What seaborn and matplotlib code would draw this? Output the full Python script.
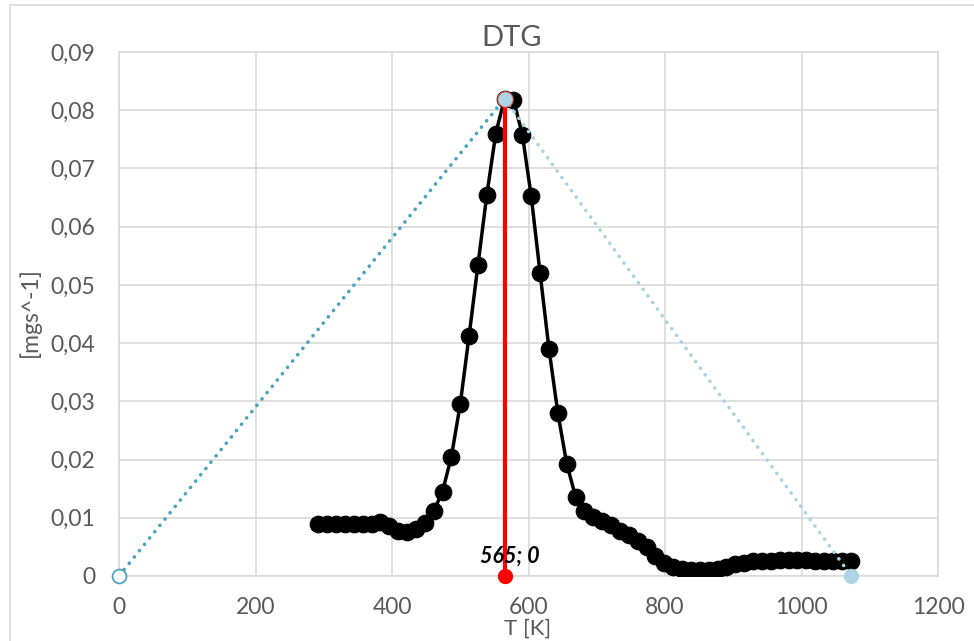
import matplotlib
matplotlib.use("Agg")
import matplotlib.pyplot as plt
import matplotlib.lines as mlines
from matplotlib.ticker import FuncFormatter, MultipleLocator
import seaborn as sns
import pandas as pd

# DTG curve
temp_k = [292, 305, 318, 331, 344, 357, 370, 383, 396, 409,
          422, 435, 448, 461, 474, 487, 500, 513, 526, 539,
          552, 565, 578, 591, 604, 617, 630, 643, 656, 669,
          682, 695, 708, 721, 734, 747, 760, 773, 786, 799,
          812, 825, 838, 851, 864, 877, 890, 903, 916, 929,
          942, 955, 968, 981, 994, 1007, 1020, 1033, 1046, 1059,
          1072]
dtg = [0.0089, 0.0089, 0.0089, 0.0089, 0.0089, 0.0089, 0.0090, 0.0093, 0.0086, 0.0078,
       0.0076, 0.0080, 0.0091, 0.0111, 0.0145, 0.0205, 0.0295, 0.0413, 0.0535, 0.0655,
       0.0760, 0.0820, 0.0818, 0.0758, 0.0652, 0.0520, 0.0390, 0.0280, 0.0193, 0.0136,
       0.0112, 0.0102, 0.0095, 0.0087, 0.0078, 0.0070, 0.0060, 0.0050, 0.0035, 0.0022,
       0.0015, 0.0012, 0.0011, 0.0010, 0.0010, 0.0012, 0.0016, 0.0020, 0.0023, 0.0025,
       0.0026, 0.0026, 0.0027, 0.0027, 0.0027, 0.0027, 0.0026, 0.0026, 0.0025, 0.0025,
       0.0025]

# helper lines: start, peak, end
tri_x = [0, 565, 1073]
tri_y = [0, 0.082, 0]
peak_x = [565, 565]
peak_y = [0, 0.082]
peak_label = "565; 0"

sns.set_style("white")
plt.rcParams['font.family'] = ['Lato', 'DejaVu Sans']

grey = "#595959"
grid_c = "#D9D9D9"

fig = plt.figure(figsize=(9.74, 6.41), dpi=100)
ax = fig.add_axes([119/974, 1-576/641, (938-119)/974, (576-52)/641])

df = pd.DataFrame({"T": temp_k, "DTG": dtg})
sns.lineplot(data=df, x="T", y="DTG", ax=ax, color="black", lw=2.5,
             marker="o", markersize=12, markeredgecolor="black", zorder=3)

# red peak line
ax.plot(peak_x, peak_y, color="red", lw=3, zorder=4)
ax.plot(peak_x[0], peak_y[0], "o", color="red", markersize=10, zorder=4, clip_on=False)
ax.annotate(peak_label, (peak_x[0], peak_y[0]), xytext=(4, 14), textcoords="offset points",
            ha="center", va="center", fontsize=15.5, fontweight="bold", fontstyle="italic",
            color="black", zorder=6)

# dotted triangle
dots = (0, (0.05, 2.2))
ax.plot(tri_x[:2], tri_y[:2], color="#4BA3BF", lw=2.6, linestyle=dots,
        dash_capstyle="round", zorder=5)
ax.plot(tri_x[1:], tri_y[1:], color="#A9D3E3", lw=2.6, linestyle=dots,
        dash_capstyle="round", zorder=5)
ax.plot(tri_x[0], tri_y[0], "o", markersize=10, markerfacecolor="white",
        markeredgecolor="#4BA3BF", markeredgewidth=1.3, linestyle="none", zorder=5, clip_on=False)
ax.plot(tri_x[1], tri_y[1], "o", markersize=11, markerfacecolor="#ADD5E3",
        markeredgecolor="#E06060", markeredgewidth=0.8, zorder=5)
ax.plot(tri_x[2], tri_y[2], "o", markersize=10, markerfacecolor="#ADD5E3",
        markeredgecolor="#ADD5E3", zorder=5, clip_on=False)

ax.set_xlim(0, 1200)
ax.set_ylim(0, 0.09)
ax.xaxis.set_major_locator(MultipleLocator(200))
ax.yaxis.set_major_locator(MultipleLocator(0.01))
ax.yaxis.set_major_formatter(FuncFormatter(
    lambda v, p: "0" if abs(v) < 1e-9 else ("%.2f" % v).replace(".", ",")))
ax.grid(True, color=grid_c, lw=1.2)
ax.set_axisbelow(True)
for s in ax.spines.values():
    s.set_color(grid_c)
    s.set_linewidth(1.2)
ax.tick_params(length=0, labelsize=16.5, labelcolor=grey)
ax.tick_params(axis="x", pad=15)
ax.tick_params(axis="y", pad=17)
ax.set_xlabel("")
ax.set_ylabel("")

fig.text(512/974, 1-38/641, "DTG", ha="center", va="center", fontsize=21, color=grey)
fig.text(30/974, 1-312/641, "[mgs^-1]", ha="center", va="center", rotation=90,
         fontsize=16.5, color=grey)
fig.text(528/974, 1-639/641, "T [K]", ha="center", va="bottom", fontsize=16, color=grey)

# chart area border (left and top visible)
fig.add_artist(mlines.Line2D([10/974, 10/974], [0, 1-5/641], transform=fig.transFigure,
                             color=grid_c, lw=1.2))
fig.add_artist(mlines.Line2D([10/974, 1], [1-5/641, 1-5/641], transform=fig.transFigure,
                             color=grid_c, lw=1.2))

fig.savefig("out.png", dpi=100)
